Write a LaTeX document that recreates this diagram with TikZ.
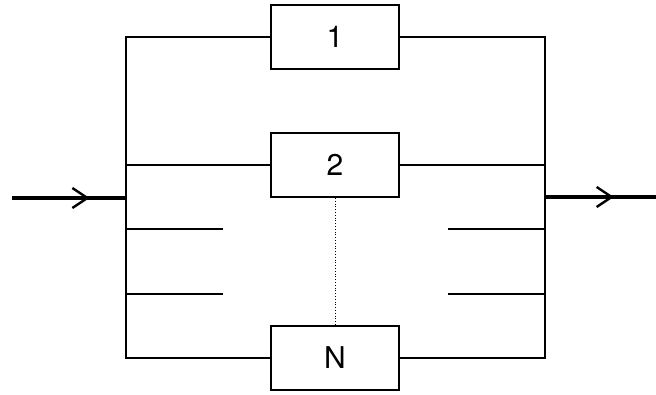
\documentclass[tikz,border=0pt]{standalone}
\usepackage{fontspec}
\setmainfont{TeX Gyre Heros}
\usetikzlibrary{arrows.meta,decorations.markings}
\tikzset{
  blk/.style={draw, line width=2.2pt, minimum width=128pt, minimum height=64pt, inner sep=0pt, font=\fontsize{30}{32}\selectfont},
  wire/.style={line width=2.2pt},
  flow/.style={line width=4pt, postaction={decorate}, decoration={markings,
    mark=at position #1 with {\arrow[line width=2.4pt]{Straight Barb[length=15pt,width=20pt]}}}},
  dotline/.style={line width=0.8pt, dotted}
}
\begin{document}
\begin{tikzpicture}[x=1pt,y=-1pt]
\useasboundingbox (0,0) rectangle (656,395);
% boxes
\node[blk] (b1) at (335,37) {1};
\node[blk] (b2) at (335,165) {2};
\node[blk] (bN) at (335,358) {N};
% bus corners
\coordinate (lt) at (126,37);
\coordinate (l2) at (126,165);
\coordinate (lin) at (126,198);
\coordinate (ls1) at (126,229);
\coordinate (ls2) at (126,294);
\coordinate (lb) at (126,358);
\coordinate (rt) at (545,37);
\coordinate (r2) at (545,165);
\coordinate (rout) at (545,197);
\coordinate (rs1) at (545,229);
\coordinate (rs2) at (545,294);
\coordinate (rb) at (545,358);
\coordinate (ls1e) at (223,229);
\coordinate (ls2e) at (223,294);
\coordinate (rs1e) at (448,229);
\coordinate (rs2e) at (448,294);
\coordinate (src) at (12,198);
\coordinate (dst) at (656,197);
% buses
\draw[wire] (b1.west) -- (lt) -- (lb) -- (bN.west);
\draw[wire] (b1.east) -- (rt) -- (rb) -- (bN.east);
\draw[wire] (l2) -- (b2.west);
\draw[wire] (b2.east) -- (r2);
\draw[wire] (ls1) -- (ls1e);
\draw[wire] (ls2) -- (ls2e);
\draw[wire] (rs1e) -- (rs1);
\draw[wire] (rs2e) -- (rs2);
% dotted ellipsis
\draw[dotline] (b2.south) -- (bN.north);
% input / output
\draw[flow=0.68] (src) -- (lin);
\draw[flow=0.62] (rout) -- (dst);
\end{tikzpicture}
\end{document}
